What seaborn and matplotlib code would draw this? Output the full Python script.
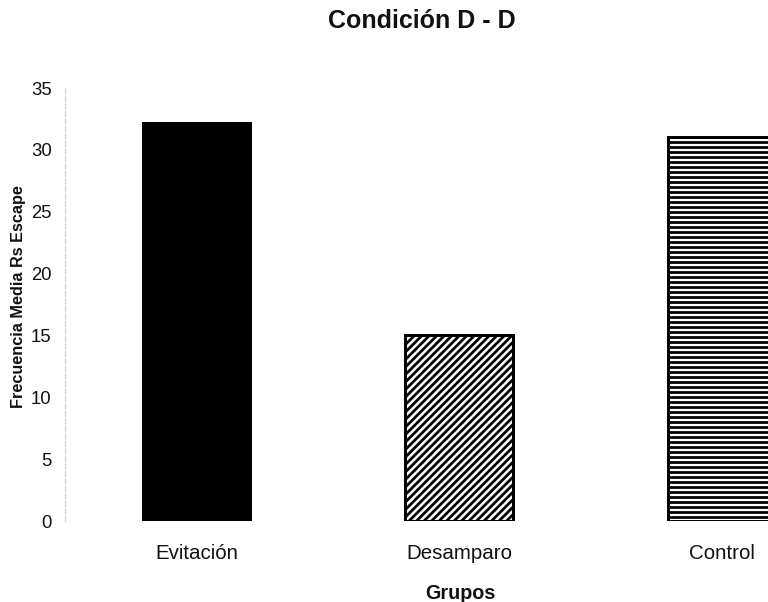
import matplotlib
matplotlib.use("Agg")
import matplotlib.pyplot as plt
import seaborn as sns
import pandas as pd

# Mean number of escape responses per group, condition D - D
grupos = ["Evitación", "Desamparo", "Control"]
frecuencia_media = [32.2, 15.0, 31.0]
y_ticks = [0, 5, 10, 15, 20, 25, 30, 35]

rellenos = ["black", "white", "white"]
tramas = ["", "////", "---"]

sns.set_style("white")
plt.rcParams["font.family"] = ["Liberation Sans", "DejaVu Sans"]
plt.rcParams["hatch.linewidth"] = 2.2
plt.rcParams["hatch.color"] = "black"

DPI = 90
fig = plt.figure(figsize=(768 / DPI, 602 / DPI), dpi=DPI)
fig.patch.set_facecolor("white")

# Axes run past the right edge, so the last bar is cut off
ax = fig.add_axes([0.08496, 0.13455, 1.0254, 0.71927])

df = pd.DataFrame({"Grupo": grupos, "Frecuencia": frecuencia_media})
sns.barplot(data=df, x="Grupo", y="Frecuencia", hue="Grupo",
            palette=rellenos, saturation=1, width=0.41,
            edgecolor="black", linewidth=2.4, legend=False, ax=ax)

for bar, trama in zip(ax.patches, tramas):
    bar.set_hatch(trama)
    bar.set_edgecolor("black")

ax.set_xlim(-0.5, 2.5)
ax.set_ylim(0, 35)
ax.set_yticks(y_ticks)
ax.set_yticklabels([str(t) for t in y_ticks])
ax.tick_params(axis="y", length=0, pad=11, labelsize=14.8, labelcolor="#111111")
ax.tick_params(axis="x", length=0, pad=30.4, labelsize=16.4, labelcolor="#111111")
for lbl in ax.get_xticklabels():
    lbl.set_verticalalignment("baseline")

for side in ["top", "right", "bottom"]:
    ax.spines[side].set_visible(False)
ax.spines["left"].set_color("#d2d2d2")
ax.spines["left"].set_linewidth(1.0)
ax.spines["left"].set_linestyle((0, (4, 2)))
ax.grid(False)
ax.set_xlabel("")
ax.set_ylabel("")

fig.text(422 / 768, 1 - 28 / 602, "Condición D - D", ha="center", va="baseline",
         fontsize=20, fontweight="bold", color="#111111")
fig.text(460 / 768, 1 - 599 / 602, "Grupos", ha="center", va="baseline",
         fontsize=15.8, fontweight="bold", color="#111111")
fig.text(19 / 768, 1 - 297 / 602, "Frecuencia Media Rs Escape", ha="center",
         va="center", rotation=90, fontsize=13, fontweight="bold", color="#111111")

fig.savefig("out.png", dpi=DPI, facecolor="white")
